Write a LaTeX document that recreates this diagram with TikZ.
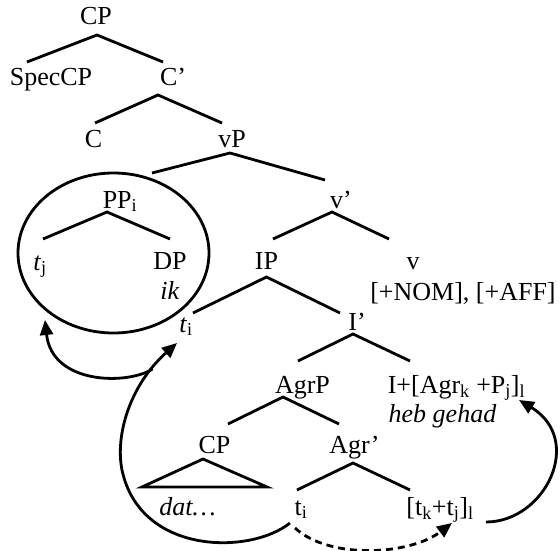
\documentclass[tikz,border=0pt]{standalone}
\usepackage{fontspec}
\setmainfont{Liberation Serif}
\usetikzlibrary{arrows.meta,shapes.geometric}
\tikzset{
	tn/.style={inner sep=0pt,outer sep=0pt,text height=18pt,text depth=5pt},
	mv/.style={-{Triangle[length=15pt,width=13pt]}},
}

\begin{document}
\begin{tikzpicture}[x=1pt,y=-1pt,line width=2.8pt,font=\fontsize{26}{30}\selectfont]
	\useasboundingbox (0,0) rectangle (560,551);
	%NODES
	\node[tn] (cp) at (96,18.5) {CP};
	\node[tn] (speccp) at (51,78.5) {SpecCP};
	\node[tn] (cbar) at (173,78.5) {C’};
	\node[tn] (c) at (93.5,140.5) {C};
	\node[tn] (vp) at (232,140.5) {vP};
	\node[draw,ellipse,inner sep=0pt,outer sep=0pt,minimum width=191pt,minimum height=160pt] (ppcirc) at (113.5,253) {};
	\node[tn] (ppi) at (120,201.5) {PP\textsubscript{i}};
	\node[tn] (vbar) at (341,201.5) {v’};
	\node[tn] (tj) at (40,263.5) {\textit{t}\textsubscript{j}};
	\node[tn] (dp) at (170,262.5) {DP};
	\node[tn] (ik) at (170,292.5) {\textit{ik}};
	\node[tn] (ip) at (266.5,262.5) {IP};
	\node[tn] (v) at (413,262.5) {v};
	\node[tn] (feat) at (463,293.5) {[+NOM], [+AFF]};
	\node[tn] (ti) at (186,325.5) {\textit{t}\textsubscript{i}};
	\node[tn] (ibar) at (357,323.5) {I’};
	\node[tn] (agrp) at (302.5,386.5) {AgrP};
	\node[tn] (infl) at (456.5,386.5) {I+[Agr\textsubscript{k} +P\textsubscript{j}]\textsubscript{l}};
	\node[tn] (heb) at (442.5,415.5) {\textit{heb gehad}};
	\node[tn] (cplow) at (214.5,446.5) {CP};
	\node[tn] (agrbar) at (354.5,446.5) {Agr’};
	\node[tn] (dat) at (187.5,508.5) {\textit{dat…}};
	\node[tn] (tilow) at (301,508.5) {t\textsubscript{i}};
	\node[tn] (tktj) at (440,508.5) {[t\textsubscript{k}+t\textsubscript{j}]\textsubscript{l}};
	%BRANCHES
	\draw ([shift={(-24,-5)}]speccp.north) -- ([shift={(1,5)}]cp.south) -- ([shift={(-10,-5)}]cbar.north);
	\draw ([shift={(1.5,-6)}]c.north) -- ([shift={(-15,5)}]cbar.south) -- ([shift={(-10,-6)}]vp.north);
	\draw ([shift={(38.5,0)}]ppcirc.north) -- ([shift={(-2,1)}]vp.south) -- ([shift={(-16,-10)}]vbar.north);
	\draw ([shift={(6.5,-12)}]ip.north) -- ([shift={(-9,-1)}]vbar.south) -- ([shift={(-24,-12)}]v.north);
	\draw ([shift={(3,-13)}]tj.north) -- ([shift={(-13,-1)}]ppi.south) -- ([shift={(0,-12)}]dp.north);
	\draw ([shift={(7,-1)}]ti.north) -- ([shift={(0,3)}]ip.south) -- ([shift={(-17,1)}]ibar.north);
	\draw ([shift={(-4.5,-14)}]agrp.north) -- ([shift={(-4,-1)}]ibar.south) -- ([shift={(-46.5,-14)}]infl.north);
	\draw ([shift={(13.5,-11)}]cplow.north) -- ([shift={(-19.5,-1)}]agrp.south) -- ([shift={(-15.5,-11)}]agrbar.north);
	\draw ([shift={(-45.5,-10)}]dat.north) -- ([shift={(-11.5,1)}]cplow.south) -- ([shift={(79.5,-10)}]dat.north) -- cycle;
	\draw ([shift={(-4,-7)}]tilow.north) -- ([shift={(-1.5,5)}]agrbar.south) -- ([shift={(-30,-7)}]tktj.north);
	%MOVEMENT
	\draw[mv] ([shift={(-11,3)}]tilow.south) .. controls (250,555) and (140,555) .. (122,470)
		.. controls (115,435) and (130,385) .. coordinate[pos=0.8] (split) ([shift={(-9,6)}]ti.south);
	\draw[mv] (split) .. controls (128,385) and (52,385) .. ([shift={(-68.5,67)}]ppcirc.center);
	\draw[mv,dash pattern=on 7pt off 5pt] ([shift={(-6,8)}]tilow.south) .. controls (330,560) and (410,555) .. ([shift={(12,3)}]tktj.south);
	\draw[mv] ([shift={(46,2)}]tktj.south) .. controls (545,522) and (585,440) .. ([shift={(62.5,2)}]infl.south);
\end{tikzpicture}
\end{document}
